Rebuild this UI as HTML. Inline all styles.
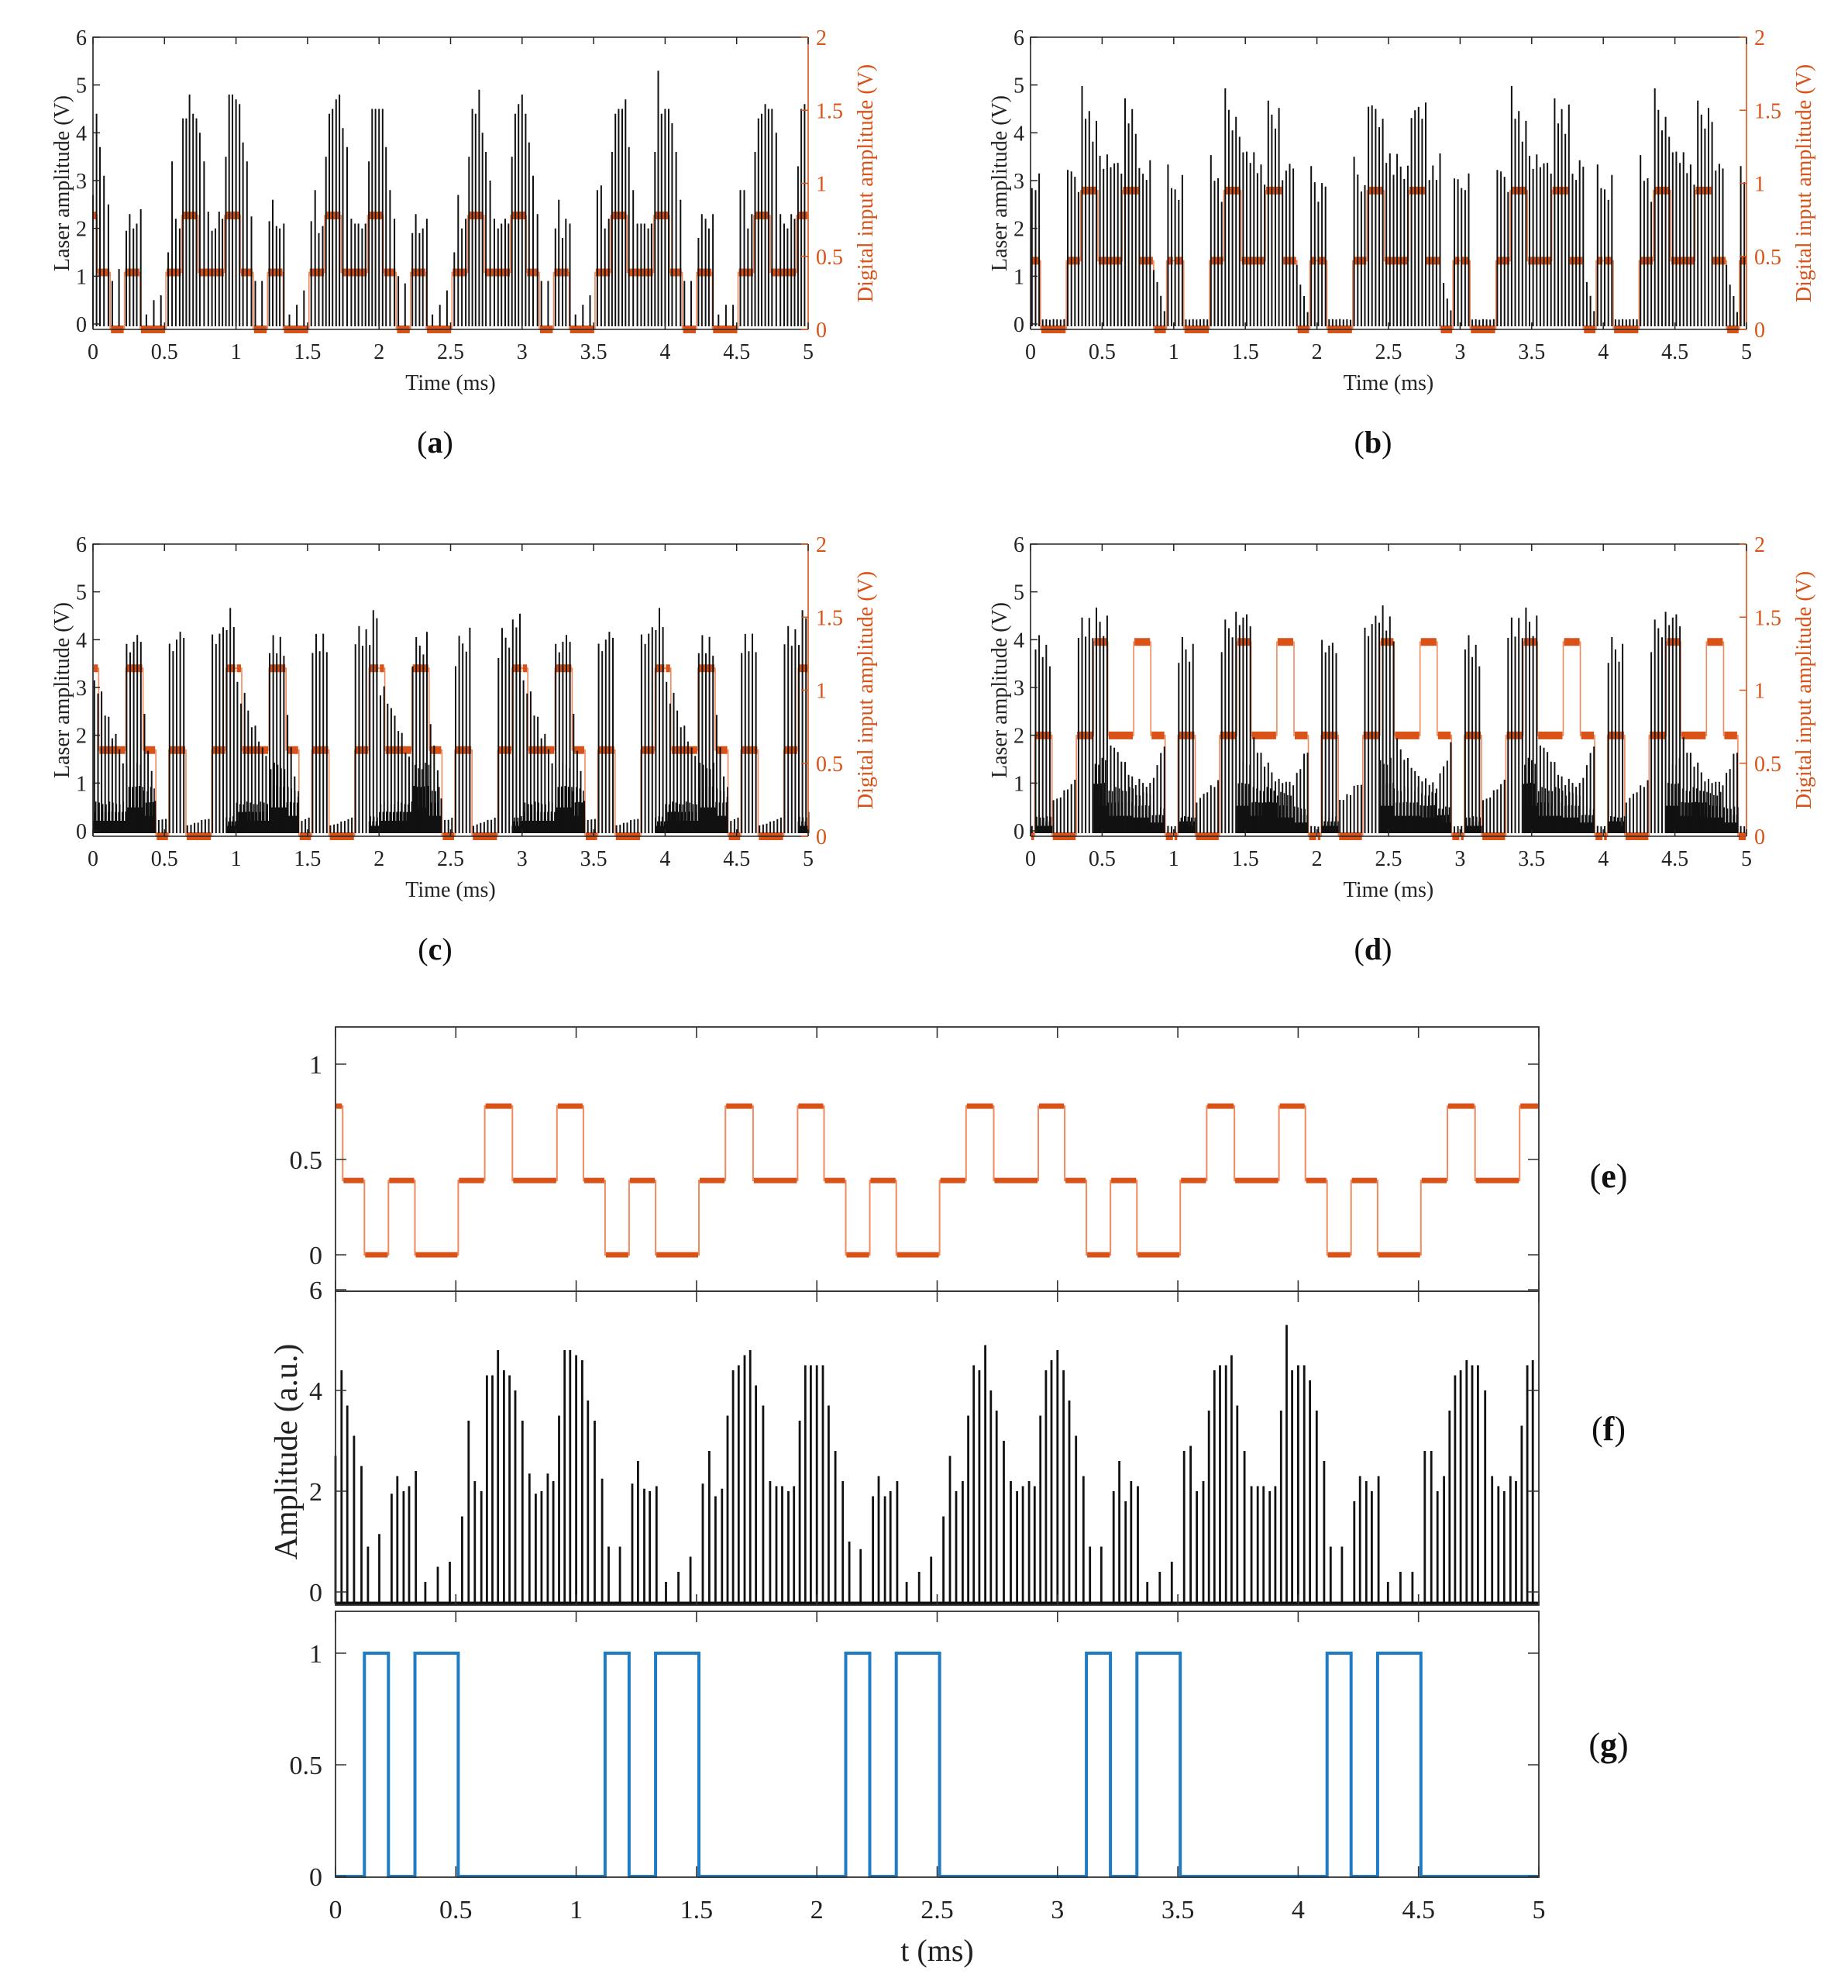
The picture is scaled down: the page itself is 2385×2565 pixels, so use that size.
<!DOCTYPE html>
<html><head><meta charset="utf-8"><style>
html,body{margin:0;padding:0;background:#fff;}
svg{display:block;}
text{font-family:"Liberation Serif",serif;}
</style></head><body>
<svg id="fig" xmlns="http://www.w3.org/2000/svg" width="2385" height="2565" viewBox="0 0 2385 2565">
<rect width="2385" height="2565" fill="#fff"/>
</svg>
<script>
// ===== Data =====
const periods = [0, 1, 2, 3, 4];
const aSegT = [0.03, 0.12, 0.22, 0.33, 0.51, 0.62, 0.735, 0.92];
const aSegLevel = [0.39, 0, 0.39, 0, 0.39, 0.78, 0.39, 0.78];
const aInitLevel = 0.78;
const gSegLevel = [0, 1, 0, 1, 0, 0, 0, 0];
const gInitLevel = 0;
const spikePhase = [0.000,0.025,0.049,0.077,0.108,0.135,0.182,0.233,0.257,0.283,0.306,0.334,0.373,0.425,0.475,0.526,0.553,0.579,0.606,0.629,0.652,0.675,0.700,0.723,0.747,0.777,0.806,0.832,0.856,0.882,0.905,0.929,0.952,0.975];
const spikeAmpP0 = [2.7,4.4,3.7,3.1,2.5,0.9,1.15,1.95,2.3,2.0,2.1,2.4,0.2,0.5,0.6,1.5,3.4,2.2,2.0,4.3,4.3,4.8,4.4,4.3,4.0,3.4,2.35,1.95,2.0,2.35,2.2,3.5,4.8,4.8];
const spikeAmpP1 = [4.7,4.6,3.8,3.4,2.25,0.9,0.9,2.15,2.6,2.05,2.0,2.1,0.2,0.4,0.7,2.15,2.8,1.9,2.05,3.5,4.4,4.5,4.7,4.8,4.1,3.7,2.2,2.1,2.1,2.0,2.1,3.4,4.5,4.5];
const spikeAmpP2 = [4.5,4.5,3.7,2.8,2.2,1.0,0.85,1.9,2.3,1.9,2.0,2.2,0.2,0.4,0.7,1.5,2.7,2.0,2.2,3.5,4.5,4.4,4.9,4.0,3.6,3.0,2.2,2.0,2.1,2.2,2.1,3.5,4.4,4.6];
const spikeAmpP3 = [4.8,4.4,3.8,3.1,2.3,0.9,0.9,2.0,2.6,1.8,2.2,2.1,0.2,0.4,0.6,2.8,2.9,2.0,2.2,3.6,4.4,4.5,4.5,4.7,3.7,2.8,2.1,2.1,2.1,2.0,2.1,3.6,5.3,4.4];
const spikeAmpP4 = [4.5,4.5,4.2,3.6,2.6,0.9,0.9,1.8,2.3,2.2,2.0,2.3,0.2,0.4,0.4,2.8,2.8,2.0,2.3,3.6,4.3,4.4,4.6,4.5,4.5,4.0,2.3,2.1,2.0,2.3,2.2,3.3,4.5,4.6];
const bSegT = [0,0.07,0.25,0.35,0.47,0.64,0.76,0.86,0.95];
const bLevel = [0.47,0,0.47,0.95,0.47,0.95,0.47,0,0.47];
const bTallA = [2.8,0.1,3.5,4.9,3.7,4.6,3.2,1.2,3.3];
const bTallB = [3.1,0.1,2.8,4.1,3.3,4.5,3.5,0.1,3.0];
const bFill = [0,0,0,0,0,0,0,0,0];
const cSegT = [0,0.04,0.23,0.35,0.44,0.53,0.65,0.83,0.93];
const cLevel = [1.15,0.59,1.15,0.59,0,0.59,0,0.59,1.15];
const cTallA = [3.2,3.0,3.9,2.6,0.2,3.9,0.1,4.1,4.4];
const cTallB = [3.0,1.4,4.2,0.6,0.3,4.3,0.3,4.3,4.7];
const cFill = [0.6,0.6,1.4,0.9,0,0,0,0,0.3];
const dSegT = [0,0.03,0.15,0.32,0.44,0.54,0.72,0.84,0.94];
const dLevel = [0,0.69,0,0.69,1.33,0.69,1.33,0.69,0];
const dTallA = [0.1,4.0,0.6,4.2,4.6,2.0,1.1,1.0,0.1];
const dTallB = [0.1,3.9,1.1,4.6,4.5,1.1,1.0,1.9,0.1];
const dFill = [0,0.3,0,0,1.5,0.9,0.8,0.5,0];
const jitter = [1,0.95,1.03,0.92,0.99,0.88,1.02,0.96,0.9,1.0,0.94,0.98];
const xTicks = [0,0.5,1,1.5,2,2.5,3,3.5,4,4.5,5];
const xTickLabels = ['0','0.5','1','1.5','2','2.5','3','3.5','4','4.5','5'];
const leftTicks = [0,1,2,3,4,5,6];
const rightTicks = [0,0.5,1,1.5,2];
const rightTickLabels = ['0','0.5','1','1.5','2'];

const NS = 'http://www.w3.org/2000/svg';
const svg = document.getElementById('fig');
const ORANGE = '#D95319', ORANGE_L = '#EE8A5E', BLUE = '#1F7CC4';
function mk(tag, attrs, parent) {
  const e = document.createElementNS(NS, tag);
  for (const k in attrs) e.setAttribute(k, attrs[k]);
  (parent || svg).appendChild(e);
  return e;
}
function txt(s, x, y, size, anchor, fill, parent, extra) {
  const t = mk('text', Object.assign({x:x, y:y, 'font-size':size, 'text-anchor':anchor, fill:fill}, extra||{}), parent);
  t.textContent = s;
  return t;
}
function buildSteps(segT, levels, initLevel) {
  const out = [];
  let prevT = 0, prevL = initLevel;
  periods.forEach(p => {
    segT.forEach((s, i) => {
      const t = p + s;
      if (t <= 5) { if (t > prevT) out.push([prevT, t, prevL]); prevT = t; prevL = levels[i]; }
    });
  });
  out.push([prevT, 5, prevL]);
  return out;
}
function segSteps(segT, levels) {
  const out = [];
  periods.forEach(p => {
    segT.forEach((s, i) => {
      const e = (i + 1 < segT.length ? segT[i + 1] : 1);
      out.push([p + s, Math.min(p + e, 5), levels[i]]);
    });
  });
  return out;
}
function drawSteps(g, steps, fx, fy, thick, thin, colThick, colThin) {
  let d = '';
  steps.forEach((s, i) => {
    d += (i === 0 ? 'M' : 'L') + fx(s[0]).toFixed(1) + ' ' + fy(s[2]).toFixed(1) + 'L' + fx(s[1]).toFixed(1) + ' ' + fy(s[2]).toFixed(1);
  });
  const thinP = mk('path', {d:d, fill:'none', stroke:colThin, 'stroke-width':thin}, g);
  
  
  if (thick > 0) {
    let d2 = '';
    steps.forEach(s => { d2 += 'M' + (fx(s[0]) + 1).toFixed(1) + ' ' + fy(s[2]).toFixed(1) + 'L' + (fx(s[1]) - 1).toFixed(1) + ' ' + fy(s[2]).toFixed(1); });
    const thickP = mk('path', {d:d2, fill:'none', stroke:colThick, 'stroke-width':thick}, g);
    
    
  }
}
function explicitSpikes() {
  const amps = [spikeAmpP0, spikeAmpP1, spikeAmpP2, spikeAmpP3, spikeAmpP4];
  const out = [];
  periods.forEach((p, pi) => spikePhase.forEach((ph, i) => { const t = p + ph; if (t <= 5) out.push([t, amps[pi][i]]); }));
  return out;
}
function envelopeSpikes(segT, A, B, F) {
  const tall = [], fill = [];
  for (let k = 0; k * 0.025 + 0.01 <= 5; k++) {
    const t = k * 0.025 + 0.01;
    const p = Math.floor(t), ph = t - p;
    let i = 0; while (i + 1 < segT.length && segT[i + 1] <= ph) i++;
    const e = (i + 1 < segT.length ? segT[i + 1] : 1);
    const f = (ph - segT[i]) / (e - segT[i]);
    tall.push([t, (A[i] + (B[i] - A[i]) * f) * jitter[k % jitter.length]]);
  }
  for (let k = 0; k * 0.008 <= 5; k++) {
    const t = k * 0.008 + 0.004;
    const p = Math.floor(t), ph = t - p;
    let i = 0; while (i + 1 < segT.length && segT[i + 1] <= ph) i++;
    if (F[i] > 0) fill.push([t, F[i] * (0.35 + 0.65 * jitter[(k * 7) % jitter.length] * ((k % 3) / 2))]);
  }
  return {tall, fill};
}
function drawSpikes(g, spikes, fx, fy, base, w, name) {
  let d = '';
  spikes.forEach(s => { const x = fx(s[0]).toFixed(1); d += 'M' + x + ' ' + base.toFixed(1) + 'L' + x + ' ' + fy(s[1]).toFixed(1); });
  const p = mk('path', {d:d, fill:'none', stroke:'#111', 'stroke-width':w}, g);
  
  
}

function quadPanel(cfg) {
  const g = mk('g', {});
  
  
  const {x0, x1, top, y0, bot} = cfg;
  const fx = t => x0 + t * (x1 - x0) / 5;
  const fyL = v => y0 - v * (y0 - top) / 6;
  const fyR = v => bot - v * (bot - top) / 2;
  drawSteps(g, cfg.steps, fx, fyR, 10, 1.6, ORANGE, ORANGE_L);
  if (cfg.fill && cfg.fill.length) drawSpikes(g, cfg.fill, fx, fyL, y0 + 3, 1.6, 'laser-background-spikes');
  drawSpikes(g, cfg.spikes, fx, fyL, y0 + 3, 2.0, 'laser-spikes');
  const ax = mk('path', {d:`M${x0} ${bot}L${x0} ${top}L${x1} ${top}M${x0} ${bot}L${x1} ${bot}`, fill:'none', stroke:'#222', 'stroke-width':1.6}, g);
  
  
  const rax = mk('line', {x1:x1, y1:top, x2:x1, y2:bot, stroke:ORANGE, 'stroke-width':1.6}, g);
  
  
  let td = '';
  xTicks.forEach((t, i) => {
    const x = fx(t);
    td += `M${x} ${bot}L${x} ${bot - 9}M${x} ${top}L${x} ${top + 9}`;
    const lb = txt(xTickLabels[i], x, bot + 38, 28, 'middle', '#222', g);
    
    
  });
  leftTicks.forEach(v => {
    const y = fyL(v);
    td += `M${x0} ${y}L${x0 + 9} ${y}`;
    const lb = txt(String(v), x0 - 8, y + 10, 28, 'end', '#222', g);
    
    
  });
  mk('path', {d:td, stroke:'#222', 'stroke-width':1.5, fill:'none'}, g);
  let rd = '';
  rightTicks.forEach((v, i) => {
    const y = fyR(v);
    rd += `M${x1} ${y}L${x1 - 9} ${y}`;
    const lb = txt(rightTickLabels[i], x1 + 10, y + 10, 28, 'start', ORANGE, g);
    
    
  });
  mk('path', {d:rd, stroke:ORANGE, 'stroke-width':1.5, fill:'none'}, g);
  const xt = txt('Time (ms)', (x0 + x1) / 2, bot + 78, 28, 'middle', '#222', g);
  
  
  const cy = (top + bot) / 2;
  const yl = txt('Laser amplitude (V)', x0 - 40, cy, 28, 'middle', '#222', g, {transform:`rotate(-90 ${x0 - 40} ${cy})`, dy:'9'});
  
  
  const yr = txt('Digital input amplitude (V)', x1 + 74, cy, 28, 'middle', ORANGE, g, {transform:`rotate(-90 ${x1 + 74} ${cy})`, dy:'9'});
  
  
  const cap = mk('text', {x:(x0 + x1) / 2 - 20, y:cfg.capY, 'font-size':40, 'text-anchor':'middle', fill:'#111'}, g);
  
  
  cap.innerHTML = '(<tspan font-weight="bold">' + cfg.id + '</tspan>)';
}

const aSteps = buildSteps(aSegT, aSegLevel, aInitLevel);
const spikesAF = explicitSpikes();
const bEnv = envelopeSpikes(bSegT, bTallA, bTallB, bFill);
const cEnv = envelopeSpikes(cSegT, cTallA, cTallB, cFill);
const dEnv = envelopeSpikes(dSegT, dTallA, dTallB, dFill);
quadPanel({id:'a', x0:120, x1:1043, top:48, y0:418, bot:425, capY:584, steps:aSteps, spikes:spikesAF});
quadPanel({id:'b', x0:1330, x1:2254, top:48, y0:418, bot:425, capY:584, steps:segSteps(bSegT, bLevel), spikes:bEnv.tall, fill:bEnv.fill});
quadPanel({id:'c', x0:120, x1:1043, top:702, y0:1072, bot:1079, capY:1238, steps:segSteps(cSegT, cLevel), spikes:cEnv.tall, fill:cEnv.fill});
quadPanel({id:'d', x0:1330, x1:2254, top:702, y0:1072, bot:1079, capY:1238, steps:segSteps(dSegT, dLevel), spikes:dEnv.tall, fill:dEnv.fill});

(function () {
  const x0 = 433, x1 = 1986;
  const fx = t => x0 + t * (x1 - x0) / 5;
  const E = {top:1325, bot:1666, f: v => 1619 - v * 246, ticks:[0,0.5,1], labels:['0','0.5','1'], name:'e', labY:1532};
  const F = {top:1666, bot:2071, f: v => 2054 - v * 65, ticks:[0,2,4,6], labels:['0','2','4','6'], name:'f', labY:1858};
  const G = {top:2079, bot:2422, f: v => 2421 - v * 288, ticks:[0,0.5,1], labels:['0','0.5','1'], name:'g', labY:2266};
  const g = mk('g', {});
  
  
  drawSteps(g, aSteps, fx, E.f, 7, 2, ORANGE, ORANGE_L);
  const base = F.f(-0.23);
  drawSpikes(g, spikesAF, fx, F.f, base, 2.8, 'amplitude-spikes');
  const bl = mk('line', {x1:x0, y1:base, x2:x1, y2:base, stroke:'#111', 'stroke-width':5}, g);
  
  
  const gp = mk('g', {}, g);
  drawSteps(gp, buildSteps(aSegT, gSegLevel, gInitLevel), fx, G.f, 0, 4, BLUE, BLUE);
  [E, F, G].forEach(P => {
    const fr = mk('rect', {x:x0, y:P.top, width:x1 - x0, height:P.bot - P.top, fill:'none', stroke:'#333', 'stroke-width':1.8}, g);
    
    
    let td = '';
    xTicks.forEach(t => { const x = fx(t); td += `M${x} ${P.bot}L${x} ${P.bot - 14}M${x} ${P.top}L${x} ${P.top + 14}`; });
    P.ticks.forEach((v, i) => {
      const y = P.f(v);
      td += `M${x0} ${y}L${x0 + 14} ${y}M${x1} ${y}L${x1 - 14} ${y}`;
      const lb = txt(P.labels[i], 416, y + 12, 34, 'end', '#222', g);
      
      
    });
    mk('path', {d:td, stroke:'#333', 'stroke-width':1.6, fill:'none'}, g);
    const cap = mk('text', {x:2076, y:P.labY, 'font-size':44, 'text-anchor':'middle', fill:'#111'}, g);
    
    
    cap.innerHTML = '(<tspan font-weight="bold">' + P.name + '</tspan>)';
  });
  xTicks.forEach((t, i) => {
    const lb = txt(xTickLabels[i], fx(t), 2475, 34, 'middle', '#222', g);
    
    
  });
  const xt = txt('t (ms)', (x0 + x1) / 2, 2530, 40, 'middle', '#222', g);
  
  
  const yt = txt('Amplitude (a.u.)', 369, 1873, 42, 'middle', '#222', g, {transform:'rotate(-90 369 1873)', dy:'14'});
  
  
})();
</script>
</body></html>
